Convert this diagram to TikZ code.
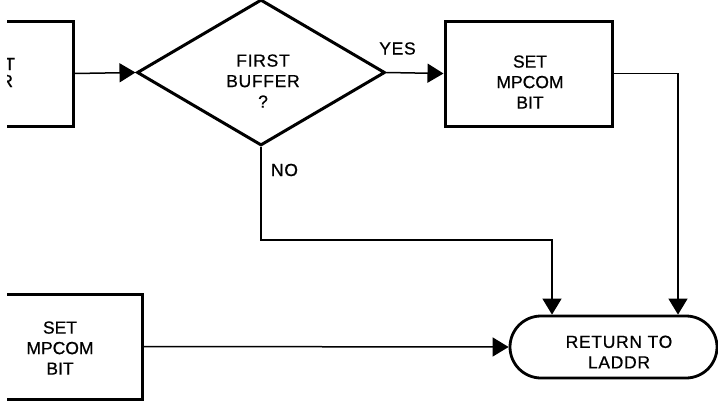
\documentclass[tikz,border=0pt]{standalone}
\usepackage{fontspec}
\setmainfont[FakeBold=0.7]{Liberation Sans}
\newfontfamily\spacedfont[LetterSpace=4,FakeBold=0.7]{Liberation Sans}
\usetikzlibrary{arrows.meta,shapes.geometric,shapes.misc}

\begin{document}
\begin{tikzpicture}[x=1pt,y=-1pt,
  procbox/.style={draw,line width=3pt,minimum width=167pt,minimum height=105pt,inner sep=0pt},
  decide/.style={draw,diamond,line width=3pt,minimum width=248pt,minimum height=146pt,inner sep=0pt},
  term/.style={draw,rounded rectangle,line width=2.8pt,minimum width=207pt,minimum height=62pt,inner sep=0pt},
  txt/.style={align=center,inner sep=0pt,font=\fontsize{17.5}{20.5}\selectfont},
  wtxt/.style={align=center,inner sep=0pt,font=\spacedfont\fontsize{17.5}{20.5}\selectfont},
  conn/.style={line width=1.5pt},
  flow/.style={conn,-{Triangle[length=16pt,width=19pt]}}]
\useasboundingbox (0,0) rectangle (718,402);
\clip (7,0) rectangle (718,402);

% process boxes
\node[procbox] (tl) at (-10.5,73.5) {};
\node[txt] (tlt1) at (9.7,64) {T};
\node[txt] (tlt2) at (6.7,81) {R};

\node[decide] (fb) at (261,72.5) {};
\node[wtxt] (fbt) at (263,81) {FIRST\\BUFFER\\?};

\node[procbox] (s1) at (528.5,73.5) {};
\node[txt] (s1t) at (530,82) {SET\\MPCOM\\BIT};

\node[procbox] (s2) at (58.5,346.5) {};
\node[txt] (s2t) at (60,348) {SET\\MPCOM\\BIT};

\node[term] (rt) at (613.5,347) {};
\node[wtxt] (rtt) at (619,352) {RETURN TO\\LADDR};

% branch labels
\node[wtxt] (yes) at (397.5,48.5) {YES};
\node[wtxt] (no) at (284.5,170) {NO};

% connectors
\coordinate (nobend) at (261,240);
\draw[flow] (tl.east) -- (fb.west);
\draw[flow] (fb.east) -- (s1.west);
\draw[flow] (s1.east) -| ([xshift=64.5pt]rt.north);
\draw[flow] (fb.south) -- (nobend) -| ([xshift=-61.5pt]rt.north);
\draw[flow] (s2.east) -- (rt.west);
\end{tikzpicture}
\end{document}
